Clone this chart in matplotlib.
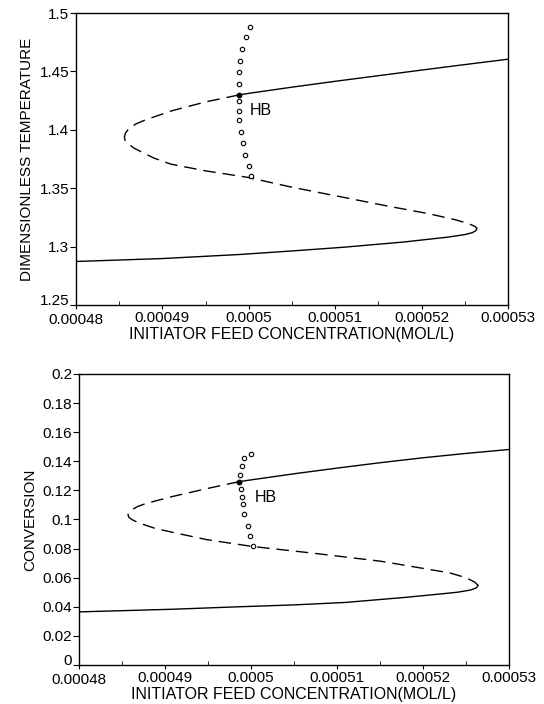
import numpy as np
import matplotlib
matplotlib.use("Agg")
import matplotlib.pyplot as plt
import matplotlib.transforms as mtransforms

plt.rcParams['font.family'] = ['Liberation Sans', 'DejaVu Sans']

# ---- top panel: dimensionless temperature ----
temp_upper_x = [0.00049883, 0.0005, 0.000505, 0.00051, 0.000515, 0.00052, 0.000525, 0.00053]
temp_upper_y = [1.4299, 1.4313, 1.4366, 1.4416, 1.4464, 1.4512, 1.4559, 1.4605]

temp_unstable_x = [0.00049883, 0.000495, 0.000491, 0.000488, 0.0004869, 0.0004861, 0.0004857,
                   0.0004856, 0.0004857, 0.0004861, 0.0004867, 0.0004875, 0.000489, 0.000491,
                   0.000495, 0.0004999, 0.000505, 0.000511, 0.000516, 0.000521, 0.000524,
                   0.0005255, 0.0005262, 0.0005264]
temp_unstable_y = [1.4299, 1.4240, 1.4162, 1.4085, 1.4050, 1.4010, 1.3970,
                   1.3935, 1.3905, 1.3878, 1.3845, 1.3815, 1.3760, 1.3707,
                   1.3650, 1.3594, 1.3510, 1.3423, 1.3350, 1.3281, 1.3230,
                   1.3197, 1.3174, 1.3159]

temp_lower_x = [0.0005264, 0.0005263, 0.0005259, 0.000525, 0.000523, 0.000518, 0.000511,
                0.000505, 0.000499, 0.00049, 0.00048]
temp_lower_y = [1.3159, 1.3140, 1.3122, 1.3105, 1.3083, 1.3042, 1.2997,
                1.2965, 1.2935, 1.2900, 1.2875]

temp_hb_x = [0.00050014, 0.00049971, 0.00049925, 0.00049902, 0.0004989, 0.00049887,
             0.00049887, 0.00049887, 0.0004989, 0.00049906, 0.00049929, 0.0004996,
             0.00049999, 0.00050025]
temp_hb_y = [1.4883, 1.4792, 1.4692, 1.4592, 1.4495, 1.4393,
             1.4247, 1.4162, 1.4085, 1.3982, 1.3886, 1.3785,
             1.3691, 1.3606]
temp_hb_point = (0.00049883, 1.4299)

# ---- bottom panel: conversion ----
conv_upper_x = [0.00049862, 0.0005, 0.000505, 0.00051, 0.000515, 0.00052, 0.000525, 0.00053]
conv_upper_y = [0.1260, 0.1272, 0.1314, 0.1353, 0.1390, 0.1424, 0.1454, 0.1481]

conv_unstable_x = [0.00049862, 0.000495, 0.0004908, 0.0004878, 0.0004868, 0.0004862, 0.0004858,
                   0.0004857, 0.0004858, 0.0004862, 0.000487, 0.0004888, 0.000491, 0.0004949,
                   0.0005001, 0.000507, 0.0005151, 0.0005231, 0.000525, 0.000526, 0.0005264]
conv_unstable_y = [0.1260, 0.1214, 0.1157, 0.1110, 0.1089, 0.1068, 0.1048,
                   0.1032, 0.1015, 0.0998, 0.0975, 0.0940, 0.0910, 0.0861,
                   0.0815, 0.0770, 0.0713, 0.0633, 0.0600, 0.0570, 0.0547]

conv_lower_x = [0.0005264, 0.0005262, 0.0005255, 0.000524, 0.000522, 0.000518, 0.000511,
                0.000505, 0.000499, 0.0004908, 0.00048]
conv_lower_y = [0.0547, 0.0530, 0.0515, 0.0500, 0.0488, 0.0465, 0.0430,
                0.0413, 0.0401, 0.0383, 0.0365]

conv_hb_x = [0.00049995, 0.00049922, 0.00049895, 0.00049872, 0.00049884, 0.00049895,
             0.00049903, 0.00049922, 0.00049962, 0.00049988, 0.00050023]
conv_hb_y = [0.1453, 0.1424, 0.1368, 0.1306, 0.1212, 0.1157,
             0.1107, 0.1036, 0.0957, 0.0887, 0.0818]
conv_hb_point = (0.00049862, 0.1260)

x_ticks = [0.00048, 0.00049, 0.0005, 0.00051, 0.00052, 0.00053]
x_labels = ['0.00048', '0.00049', '0.0005', '0.00051', '0.00052', '0.00053']
temp_ticks = [1.25, 1.3, 1.35, 1.4, 1.45, 1.5]
temp_labels = ['1.25', '1.3', '1.35', '1.4', '1.45', '1.5']
conv_ticks = [0, 0.02, 0.04, 0.06, 0.08, 0.1, 0.12, 0.14, 0.16, 0.18, 0.2]
conv_labels = ['0', '0.02', '0.04', '0.06', '0.08', '0.1', '0.12', '0.14', '0.16', '0.18', '0.2']

xlabel = 'INITIATOR FEED CONCENTRATION(MOL/L)'


def draw(ax, up_x, up_y, un_x, un_y, lo_x, lo_y, hb_x, hb_y, hb_pt, hb_text,
         yticks, ylabels, ylim, ylabel):
    ax.plot(up_x, up_y, color='black', lw=1.0)
    ax.plot(lo_x, lo_y, color='black', lw=1.0)
    ax.plot(un_x, un_y, color='black', lw=1.0, dashes=(9, 5))
    ax.plot(hb_x, hb_y, 'o', ms=3.2, mfc='white', mec='black', mew=0.8, ls='none')
    ax.plot([hb_pt[0]], [hb_pt[1]], 'o', ms=3.2, color='black')
    ax.text(hb_text[0], hb_text[1], 'HB', fontsize=11.5, va='center', ha='left')

    ax.set_xlim(0.00048, 0.00053)
    ax.set_ylim(*ylim)
    ax.set_xticks(x_ticks)
    ax.set_xticklabels(x_labels)
    ax.set_xticks([0.000485, 0.000495, 0.000505, 0.000515, 0.000525], minor=True)
    ax.set_yticks(yticks)
    ax.set_yticklabels(ylabels)
    ax.tick_params(axis='both', labelsize=11, width=0.8, direction='out', pad=1)
    ax.tick_params(axis='x', which='major', length=3)
    ax.tick_params(axis='y', which='major', length=4)
    ax.tick_params(axis='x', which='minor', length=3, direction='in')
    ax.set_xlabel(xlabel, fontsize=11.5, labelpad=0)
    ax.set_ylabel(ylabel, fontsize=11, labelpad=4)
    for s in ax.spines.values():
        s.set_linewidth(1.0)

    # lift the lowest y label a little so it sits just above the first x label
    lowest = ax.get_yticklabels()[0]
    lowest.set_transform(lowest.get_transform() +
                         mtransforms.ScaledTranslation(0, 4 / 72, ax.figure.dpi_scale_trans))
    first = ax.get_xticklabels()[0]
    first.set_transform(first.get_transform() +
                        mtransforms.ScaledTranslation(0, -1.5 / 72, ax.figure.dpi_scale_trans))


fig = plt.figure(figsize=(5.44, 7.04), dpi=100)
ax1 = fig.add_axes([0.1397, 0.5663, 0.7941, 0.4152])
ax2 = fig.add_axes([0.1452, 0.0554, 0.7905, 0.4134])

draw(ax1, temp_upper_x, temp_upper_y, temp_unstable_x, temp_unstable_y,
     temp_lower_x, temp_lower_y, temp_hb_x, temp_hb_y, temp_hb_point,
     (0.0005001, 1.4166), temp_ticks, temp_labels, (1.25, 1.5),
     'DIMENSIONLESS TEMPERATURE')
draw(ax2, conv_upper_x, conv_upper_y, conv_unstable_x, conv_unstable_y,
     conv_lower_x, conv_lower_y, conv_hb_x, conv_hb_y, conv_hb_point,
     (0.00050047, 0.1151), conv_ticks, conv_labels, (0, 0.2),
     'CONVERSION')

fig.savefig('out.png', dpi=100)
